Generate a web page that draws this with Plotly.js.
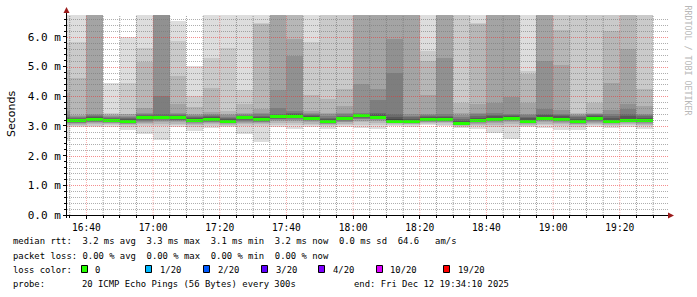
<!DOCTYPE html>
<html><head><meta charset="utf-8">
<script src="https://cdn.plot.ly/plotly-3.0.1.min.js"></script>
<style>html,body{margin:0;padding:0;background:#fff;}#chart{width:697px;height:297px;}</style>
</head><body><div id="chart"></div>
<script>
// ---- data ----
const day = "2025-12-12";
const binStart = ["16:30","16:35","16:40","16:45","16:50","16:55","17:00","17:05","17:10","17:15","17:20","17:25",
  "17:30","17:35","17:40","17:45","17:50","17:55","18:00","18:05","18:10","18:15","18:20","18:25",
  "18:30","18:35","18:40","18:45","18:50","18:55","19:00","19:05","19:10","19:15","19:20","19:25"];
const median = [3.17,3.17,3.22,3.20,3.16,3.28,3.28,3.27,3.19,3.22,3.16,3.27,3.21,3.31,3.33,3.26,3.15,3.24,
  3.34,3.30,3.15,3.15,3.22,3.22,3.08,3.18,3.22,3.26,3.16,3.26,3.22,3.15,3.25,3.15,3.18,3.18];
const loss = new Array(36).fill(0);
// 20 pings per step, sorted (ms)
const p01 = [2.49,2.96,2.95,2.97,2.87,2.72,2.54,2.96,2.83,2.93,2.95,2.73,2.47,2.96,2.90,2.95,2.91,2.98,2.93,2.90,3.01,2.98,3.03,3.01,2.93,2.91,2.77,2.56,2.95,2.93,2.88,2.87,2.96,2.93,2.98,2.90];
const p02 = [2.98,3.00,3.01,3.02,2.98,2.99,3.01,3.03,2.97,3.01,3.00,2.99,3.00,3.05,3.04,3.02,2.99,3.03,3.05,3.04,3.04,3.03,3.06,3.05,2.98,2.99,2.98,2.98,3.00,3.02,3.00,2.98,3.02,3.00,3.03,3.00];
const p03 = [3.03,3.04,3.06,3.06,3.03,3.06,3.07,3.08,3.03,3.06,3.04,3.06,3.06,3.11,3.11,3.08,3.03,3.08,3.12,3.11,3.07,3.06,3.09,3.09,3.01,3.04,3.05,3.06,3.04,3.08,3.06,3.03,3.07,3.04,3.07,3.05];
const p04 = [3.06,3.07,3.09,3.09,3.06,3.11,3.12,3.12,3.07,3.10,3.07,3.11,3.10,3.16,3.17,3.13,3.06,3.12,3.18,3.16,3.09,3.08,3.12,3.12,3.03,3.08,3.10,3.12,3.07,3.13,3.10,3.06,3.11,3.07,3.10,3.08];
const p05 = [3.09,3.09,3.12,3.11,3.08,3.15,3.16,3.16,3.10,3.13,3.09,3.15,3.13,3.20,3.21,3.16,3.08,3.15,3.22,3.20,3.11,3.10,3.14,3.14,3.04,3.11,3.13,3.16,3.09,3.17,3.13,3.08,3.15,3.09,3.12,3.11];
const p06 = [3.11,3.11,3.14,3.13,3.10,3.18,3.19,3.19,3.12,3.15,3.11,3.18,3.15,3.23,3.24,3.19,3.10,3.17,3.25,3.23,3.12,3.11,3.16,3.16,3.05,3.13,3.16,3.19,3.11,3.19,3.16,3.10,3.18,3.11,3.14,3.13];
const p07 = [3.13,3.12,3.16,3.15,3.12,3.21,3.22,3.21,3.14,3.17,3.12,3.20,3.17,3.25,3.27,3.21,3.11,3.19,3.28,3.25,3.13,3.12,3.18,3.18,3.06,3.15,3.18,3.21,3.13,3.21,3.18,3.12,3.20,3.12,3.15,3.15];
const p08 = [3.14,3.13,3.17,3.16,3.13,3.23,3.24,3.23,3.15,3.18,3.13,3.22,3.18,3.27,3.29,3.22,3.12,3.20,3.30,3.27,3.14,3.13,3.19,3.19,3.06,3.16,3.19,3.23,3.14,3.23,3.19,3.13,3.21,3.13,3.16,3.16];
const p09 = [3.15,3.14,3.19,3.17,3.14,3.25,3.26,3.25,3.16,3.19,3.14,3.24,3.19,3.28,3.30,3.23,3.13,3.21,3.31,3.28,3.15,3.14,3.20,3.20,3.07,3.17,3.20,3.24,3.15,3.24,3.20,3.14,3.22,3.14,3.17,3.17];
const p10 = [3.16,3.16,3.21,3.19,3.15,3.27,3.27,3.26,3.18,3.21,3.15,3.26,3.20,3.30,3.32,3.25,3.14,3.23,3.33,3.29,3.15,3.14,3.21,3.21,3.07,3.17,3.21,3.25,3.15,3.25,3.21,3.14,3.24,3.14,3.17,3.17];
const p11 = [3.19,3.19,3.23,3.21,3.17,3.29,3.29,3.28,3.20,3.23,3.17,3.28,3.22,3.32,3.34,3.27,3.16,3.25,3.35,3.31,3.17,3.16,3.23,3.23,3.09,3.19,3.23,3.27,3.17,3.27,3.23,3.16,3.26,3.16,3.19,3.19];
const p12 = [3.22,3.21,3.26,3.23,3.20,3.32,3.32,3.31,3.23,3.26,3.20,3.30,3.25,3.35,3.37,3.30,3.19,3.28,3.37,3.35,3.22,3.20,3.26,3.26,3.13,3.23,3.27,3.30,3.21,3.31,3.27,3.20,3.29,3.20,3.25,3.23];
const p13 = [3.26,3.24,3.29,3.25,3.23,3.35,3.35,3.34,3.26,3.29,3.23,3.32,3.29,3.38,3.40,3.33,3.23,3.31,3.40,3.39,3.30,3.25,3.30,3.30,3.18,3.28,3.32,3.34,3.26,3.36,3.32,3.24,3.32,3.26,3.32,3.28];
const p14 = [3.31,3.27,3.32,3.28,3.27,3.38,3.39,3.37,3.29,3.33,3.27,3.35,3.33,3.42,3.44,3.37,3.28,3.35,3.42,3.45,3.40,3.30,3.34,3.35,3.24,3.34,3.38,3.38,3.31,3.42,3.37,3.29,3.36,3.33,3.40,3.33];
const p15 = [3.38,3.30,3.36,3.31,3.31,3.41,4.01,3.40,3.33,3.37,3.31,3.38,3.39,3.60,3.52,3.41,3.34,3.40,3.45,3.87,4.78,3.35,3.38,3.40,3.31,3.40,3.45,3.42,3.37,3.56,3.42,3.34,3.39,3.42,3.57,3.38];
const p16 = [3.52,3.34,3.40,3.34,3.35,3.45,7.00,3.43,3.38,3.42,3.36,3.41,3.45,4.22,5.37,3.45,3.40,3.45,4.41,4.24,5.92,3.40,3.42,5.30,3.38,3.45,3.79,3.99,3.42,5.20,3.54,3.38,3.42,3.55,3.74,3.42];
const p17 = [4.10,3.36,7.00,3.38,3.39,3.62,7.40,3.74,3.42,3.47,3.41,3.43,3.56,7.00,5.93,3.50,3.45,3.67,7.00,7.00,7.00,7.00,4.05,7.00,3.45,3.73,7.00,7.00,3.77,7.00,5.04,3.41,3.45,4.44,5.60,3.67];
const p18 = [4.90,4.61,7.50,3.41,3.42,5.14,7.90,4.70,3.65,4.29,3.50,3.75,6.44,7.50,7.10,4.03,3.92,4.26,7.50,7.40,7.50,7.40,5.19,7.50,3.79,6.44,7.50,7.40,4.74,7.50,6.22,3.44,3.77,6.21,7.00,4.25];
const p19 = [5.80,5.82,8.10,3.45,4.46,5.64,8.50,5.88,4.00,5.30,5.62,4.21,6.46,8.00,7.60,5.82,7.00,7.10,8.10,7.90,8.20,8.00,5.53,8.00,7.00,6.46,8.00,8.00,4.85,8.10,7.00,7.00,7.10,7.00,7.60,7.00];
const p20 = [6.90,7.30,9.00,4.46,6.00,7.40,9.30,6.55,5.03,7.20,7.10,7.30,7.20,8.80,8.30,7.20,7.70,7.80,8.90,8.60,9.10,8.70,7.20,8.80,7.60,7.30,8.70,8.90,7.20,8.80,7.70,7.60,7.70,7.80,8.30,7.70];
const lossLabels = ["0","1/20","2/20","3/20","4/20","10/20","19/20"];
const lossColors = ["#26ff00","#00b8ff","#0059ff","#5e00ff","#7e00ff","#dd00ff","#ff0000"];
const legendLine1 = "median rtt:  3.2 ms avg  3.3 ms max  3.1 ms min  3.2 ms now  0.0 ms sd  64.6   am/s";
const legendLine2 = "packet loss: 0.00 % avg  0.00 % max  0.00 % min  0.00 % now";
const legendLine3 = "loss color:";
const probeLabel = "probe:";
const probeText = "20 ICMP Echo Pings (56 Bytes) every 300s";
const endText = "end: Fri Dec 12 19:34:10 2025";
const watermark = "RRDTOOL / TOBI OETIKER";
const yTitle = "Seconds";

// ---- drawing ----
const pings = [p01,p02,p03,p04,p05,p06,p07,p08,p09,p10,p11,p12,p13,p14,p15,p16,p17,p18,p19,p20];
const X0 = 67, PW = 600, Y0 = 215, PH = 200, YMAX = 6.74;
const px = v => (v - X0) / PW;
const py = v => (Y0 - v) / PH;
const xs = binStart.map(t => day + " " + t + ":00");
const STEP = 300000;
const mono = "DejaVu Sans Mono, Liberation Mono, monospace";

const traces = [];
for (let i = 1; i <= 10; i++) {
  const lo = pings[i - 1], hi = pings[20 - i];
  const g = Math.floor(190 / 10 * (10 - i)) + 50;
  const col = "rgb(" + g + "," + g + "," + g + ")";
  traces.push({type: "bar", x: xs, base: lo, y: hi.map((h, k) => h - lo[k]),
    width: STEP, offset: 0, marker: {color: col, line: {width: 0}}, hoverinfo: "skip"});
}
const band = 0.05;
traces.push({type: "bar", x: xs, base: median.map(m => m - band), y: median.map(() => 2 * band),
  width: STEP, offset: 0, marker: {color: median.map((m, k) => lossColors[loss[k]]), line: {width: 0}}, hoverinfo: "skip"});

const minorCol = "rgba(120,120,120,0.6)", majorCol = "rgba(235,50,50,0.55)";
const minorColV = "rgba(120,120,120,0.7)", majorColV = "rgba(235,60,60,0.42)";
// vertical grid as line traces drawn above the smoke
function hm(min) { const h = Math.floor(min / 60), m = min % 60; return day + " " + String(h).padStart(2, "0") + ":" + String(m).padStart(2, "0") + ":00"; }
const gx = {minor: [], major: []}, gy = {minor: [], major: []};
for (let m = 16 * 60 + 35; m <= 19 * 60 + 30; m += 5) {
  const key = (m % 20) === 0 ? "major" : "minor";
  gx[key].push(hm(m), hm(m), null);
  gy[key].push(0, YMAX, null);
}
["minor", "major"].forEach(k => traces.push({type: "scatter", mode: "lines", x: gx[k], y: gy[k], hoverinfo: "skip",
  line: {color: k === "major" ? majorColV : minorColV, width: 1, dash: "1px,1px"}, connectgaps: false}));

const shapes = [];
// horizontal grid
for (let k = 1; k <= 33; k++) {
  const v = k * 0.2, major = (k % 5) === 0;
  const yp = Math.round(Y0 - v * PH / YMAX) + 0.5;
  shapes.push({type: "line", layer: "above", xref: "paper", yref: "paper", x0: 0, x1: px(668), y0: py(yp), y1: py(yp),
    line: {color: major ? majorCol : minorCol, width: 1, dash: "1px,1px"}});
}
// axes lines and arrows
shapes.push({type: "line", layer: "above", xref: "paper", yref: "paper", x0: px(64), x1: px(669), y0: py(215.5), y1: py(215.5), line: {color: "#000", width: 1}});
shapes.push({type: "line", layer: "above", xref: "paper", yref: "paper", x0: px(66.5), x1: px(66.5), y0: py(218), y1: py(12), line: {color: "#000", width: 1}});
shapes.push({type: "path", layer: "above", xref: "paper", yref: "paper",
  path: "M" + px(668) + "," + py(212.5) + " L" + px(674) + "," + py(215.5) + " L" + px(668) + "," + py(218.5) + " Z",
  fillcolor: "#9b1b1b", line: {width: 0}});
shapes.push({type: "path", layer: "above", xref: "paper", yref: "paper",
  path: "M" + px(63.5) + "," + py(13) + " L" + px(66.5) + "," + py(7) + " L" + px(69.5) + "," + py(13) + " Z",
  fillcolor: "#9b1b1b", line: {width: 0}});

// legend
const ann = [];
const lf = {family: mono, size: 8.9, color: "#000"};
function txt(t, x, y, extra) { ann.push(Object.assign({text: t.replace(/ /g, "\u00a0"), xref: "paper", yref: "paper", x: px(x), y: py(y),
  xanchor: "left", yanchor: "middle", showarrow: false, font: lf, borderpad: 0}, extra || {})); }
txt(legendLine1, 12, 241);
txt(legendLine2, 12, 255.5);
txt(legendLine3, 12, 269.5);
const boxX = [81.5, 145.5, 203.5, 261.5, 318.5, 376.5, 443.5];
const labX = [94, 159.3, 217.3, 275, 332.3, 389.3, 456.7];
lossLabels.forEach((l, i) => {
  shapes.push({type: "rect", xref: "paper", yref: "paper", x0: px(boxX[i]), x1: px(boxX[i] + 6), y0: py(272.5), y1: py(265.5),
    fillcolor: lossColors[i], line: {color: "#000", width: 1}});
  txt(l, labX[i], 269.5);
});
txt(probeLabel, 12, 283.5);
txt(probeText, 81, 283.5);
txt(endText, 510, 283.5, {xanchor: "right"});
ann.push({text: watermark, xref: "paper", yref: "paper", x: px(687.5), y: py(60), textangle: 90, showarrow: false,
  font: {family: mono, size: 8.3, color: "#b8b8b8"}, xanchor: "center", yanchor: "middle"});
ann.push({text: yTitle, xref: "paper", yref: "paper", x: px(11), y: py(114), textangle: -90, showarrow: false,
  font: {family: "DejaVu Sans, sans-serif", size: 11, color: "#000"}, xanchor: "center", yanchor: "middle"});

const layout = {
  width: 697, height: 297, margin: {l: 67, r: 30, t: 15, b: 82, pad: 0},
  paper_bgcolor: "#fff", plot_bgcolor: "#fff", showlegend: false,
  barmode: "overlay", bargap: 0,
  xaxis: {type: "date", range: [day + " 16:34:10", day + " 19:34:10"], tick0: day + " 16:40:00", dtick: 1200000,
    tickformat: "%H:%M", showgrid: false, zeroline: false, showline: false,
    ticks: "outside", ticklen: 3, tickcolor: "#000", tickfont: {family: mono, size: 9.6, color: "#000"},
    minor: {tick0: day + " 16:35:00", dtick: 300000, ticks: "outside", ticklen: 2, tickcolor: "#000", showgrid: false},
    fixedrange: true},
  yaxis: {range: [0, YMAX], tick0: 0, dtick: 1, tickformat: ".1f", ticksuffix: " m", showgrid: false, zeroline: false,
    showline: false, ticks: "outside", ticklen: 3, tickcolor: "#000", tickfont: {family: mono, size: 11, color: "#000"},
    minor: {dtick: 0.2, ticks: "outside", ticklen: 2, tickcolor: "#000", showgrid: false}, fixedrange: true},
  shapes: shapes, annotations: ann
};
Plotly.newPlot("chart", traces, layout, {displayModeBar: false, staticPlot: true});
</script></body></html>
